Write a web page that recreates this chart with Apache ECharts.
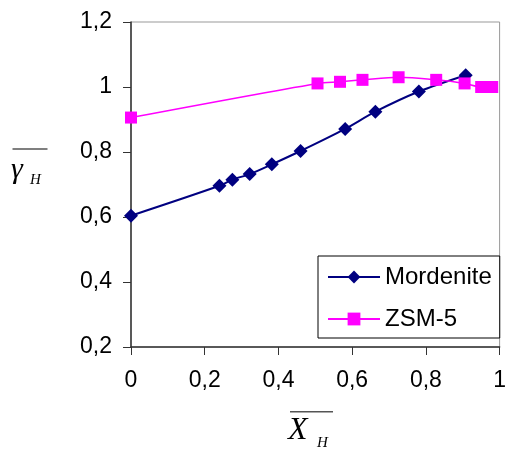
<!DOCTYPE html>
<html>
<head>
<meta charset="utf-8">
<script src="https://cdn.jsdelivr.net/npm/echarts@6/dist/echarts.min.js"></script>
<style>
  html, body { margin: 0; padding: 0; background: #fff; }
  #chart { width: 509px; height: 449px; }
</style>
</head>
<body>
<div id="chart"></div>
<script>
const mordeniteX = [0, 0.24, 0.275, 0.322, 0.382, 0.46, 0.581, 0.663, 0.781, 0.908]
const mordeniteY = [0.604, 0.696, 0.715, 0.732, 0.762, 0.803, 0.871, 0.924, 0.986, 1.036]
const zsmX = [0, 0.506, 0.567, 0.628, 0.726, 0.828, 0.905, 0.95, 0.98]
const zsmY = [0.906, 1.011, 1.016, 1.022, 1.03, 1.022, 1.011, 1.0, 1.0]

const pairs = (xs, ys) => xs.map((x, i) => [x, ys[i]])
const fmt = (v) => String(+v.toFixed(1)).replace('.', ',')

const labelFont = { fontFamily: 'Liberation Sans', fontSize: 23, color: '#000' }

const chart = echarts.init(document.getElementById('chart'))

chart.setOption({
  animation: false,
  grid: {
    left: 131, right: 8, top: 22, bottom: 102,
    show: true, borderColor: '#999', borderWidth: 1
  },
  xAxis: {
    type: 'value', min: 0, max: 1, interval: 0.2,
    splitLine: { show: false },
    axisLine: { onZero: false, lineStyle: { color: '#333', width: 1.5 } },
    axisTick: { length: 8, lineStyle: { color: '#333' } },
    axisLabel: Object.assign({ margin: 22, formatter: fmt }, labelFont)
  },
  yAxis: {
    type: 'value', min: 0.2, max: 1.2, interval: 0.2,
    splitLine: { show: false },
    axisLine: { show: true, lineStyle: { color: '#333', width: 1.5 } },
    axisTick: { show: true, length: 8, lineStyle: { color: '#333' } },
    axisLabel: Object.assign({ margin: 19, formatter: fmt }, labelFont)
  },
  legend: {
    orient: 'vertical',
    left: 318, top: 256,
    padding: [9, 8, 7, 9],
    itemWidth: 52, itemHeight: 16, itemGap: 18,
    borderColor: '#000', borderWidth: 1, backgroundColor: '#fff',
    textStyle: { fontFamily: 'Liberation Sans', fontSize: 24, color: '#000' },
    data: ['Mordenite', 'ZSM-5']
  },
  series: [
    {
      name: 'Mordenite', type: 'line',
      data: pairs(mordeniteX, mordeniteY),
      smooth: 0.3,
      symbol: 'diamond', symbolSize: 14,
      lineStyle: { color: '#000080', width: 2 },
      itemStyle: { color: '#000080' }
    },
    {
      name: 'ZSM-5', type: 'line',
      data: pairs(zsmX, zsmY),
      smooth: 0.3,
      symbol: 'rect', symbolSize: 12,
      lineStyle: { color: '#ff00ff', width: 1.5 },
      itemStyle: { color: '#ff00ff' }
    }
  ],
  graphic: [
    // y axis title: overlined gamma with subscript H
    { type: 'line', shape: { x1: 12.5, y1: 149, x2: 47.5, y2: 149 }, style: { stroke: '#555', lineWidth: 1.5 } },
    { type: 'text', left: 11, top: 155, style: { text: 'γ', font: 'italic 30px "Liberation Serif"', fill: '#000' } },
    { type: 'text', left: 30, top: 173, style: { text: 'H', font: 'italic 15px "Liberation Serif"', fill: '#000' } },
    // x axis title: overlined X with subscript H
    { type: 'line', shape: { x1: 290, y1: 411.7, x2: 333, y2: 411.7 }, style: { stroke: '#555', lineWidth: 1.5 } },
    { type: 'text', left: 288, top: 415, style: { text: 'X', font: 'italic 32px "Liberation Serif"', fill: '#000' } },
    { type: 'text', left: 317, top: 436, style: { text: 'H', font: 'italic 15px "Liberation Serif"', fill: '#000' } }
  ]
})
</script>
</body>
</html>
